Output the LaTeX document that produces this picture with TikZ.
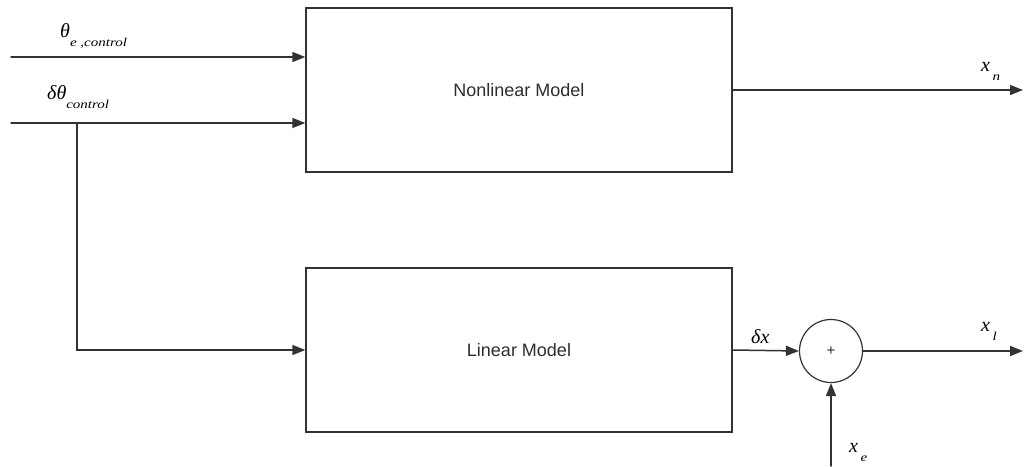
\documentclass[tikz,border=0pt]{standalone}
\usepackage{graphicx}
\usepackage{fontspec}
\setmainfont{Liberation Sans}
\newfontfamily\lblfont{Liberation Serif}
\usetikzlibrary{arrows.meta, calc}
\definecolor{edgecol}{RGB}{50,50,50}
\definecolor{textcol}{RGB}{45,45,45}
\newcommand{\sigl}[2]{{\lblfont\itshape #1\raisebox{-0.45em}{\scalebox{1.25}[1]{\fontsize{12}{12}\selectfont #2}}}}

\begin{document}
\begin{tikzpicture}[x=1pt, y=-1pt, line cap=round,
    modelbox/.style={draw=edgecol, line width=1.4pt, minimum width=426pt, minimum height=164pt, inner sep=0pt, font=\fontsize{18}{20}\selectfont, text=textcol},
    sumnode/.style={draw=edgecol, line width=1.2pt, circle, minimum size=63pt, inner sep=0pt, font=\fontsize{15}{15}\selectfont, text=textcol},
    sig/.style={draw=edgecol, line width=1.5pt, -{Triangle[length=13pt, width=10pt]}},
    lbl/.style={inner sep=0pt, font=\fontsize{20}{22}\selectfont}]
    \useasboundingbox (0,0) rectangle (1025,466);

    \node[modelbox] (nonlin) at (519,90) {Nonlinear Model};
    \node[modelbox] (lin) at (519,350) {Linear Model};
    \node[sumnode] (sum) at (831,351) {+};

    \coordinate (in1) at (11,57);
    \coordinate (in2) at (11,123);
    \coordinate (split) at (77,123);
    \coordinate (outn) at (1023,90);
    \coordinate (outl) at (1023,351);
    \coordinate (ine) at (831,466);

    \draw[sig] (in1) -- (in1 -| nonlin.west);
    \draw[sig] (in2) -- (in2 -| nonlin.west);
    \draw[sig] (split) |- (lin.west);
    \draw[sig] (nonlin.east) -- (outn);
    \draw[sig] (lin.east) -- (sum.west);
    \draw[sig] (sum.east) -- (outl);
    \draw[sig] (ine) -- (sum.south);

    \node[lbl, anchor=south west] (thetae) at (60,49) {\sigl{θ}{e ,control}};
    \node[lbl, anchor=south west] (dtheta) at (47,109) {\sigl{δθ}{control}};
    \node[lbl, anchor=south west] (xn) at (981,81) {\sigl{x}{\,n}};
    \node[lbl, anchor=south west] (dx) at (751,344) {\lblfont\itshape δx};
    \node[lbl, anchor=south west] (xl) at (981,341) {\sigl{x}{\,l}};
    \node[lbl, anchor=south west] (xe) at (849,462) {\sigl{x}{\,e}};
\end{tikzpicture}
\end{document}
